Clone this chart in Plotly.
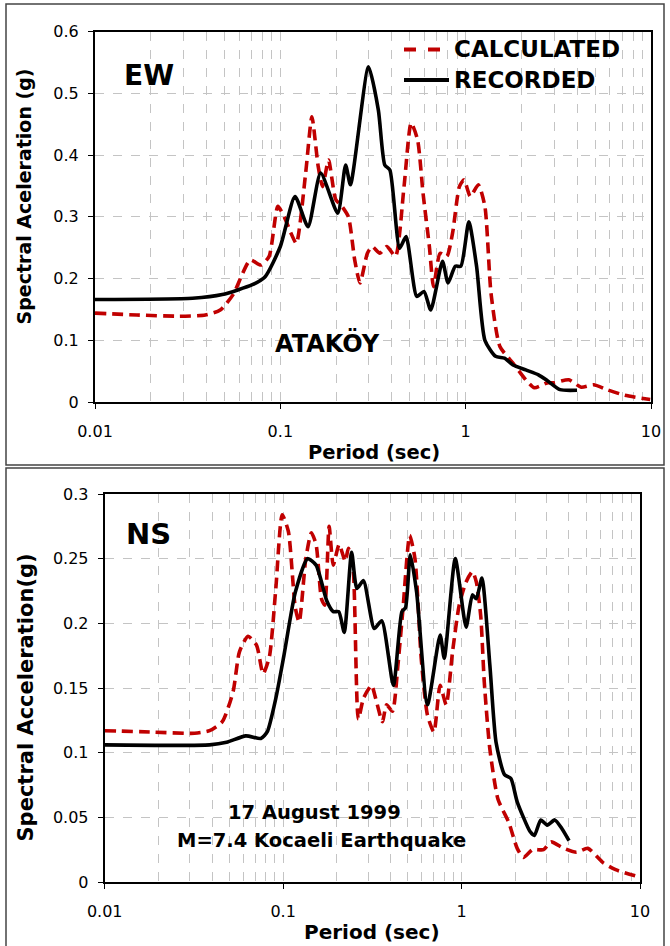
import plotly.graph_objects as go

# ---------------- data ----------------
ew_rec_T = [0.01, 0.0336, 0.0486, 0.0706, 0.0828, 0.1, 0.12, 0.141, 0.165, 0.204, 0.225, 0.239,
            0.299, 0.338, 0.366, 0.39, 0.44, 0.477, 0.545, 0.596, 0.648, 0.75, 0.803, 0.879, 0.942,
            1.04, 1.145, 1.27, 1.45, 1.62, 1.8, 2.11, 2.47, 2.75, 3.23, 3.99]
ew_rec_SA = [0.166, 0.168, 0.174, 0.19, 0.203, 0.252, 0.333, 0.284, 0.371, 0.306, 0.384, 0.352,
             0.543, 0.473, 0.384, 0.376, 0.249, 0.268, 0.171, 0.179, 0.149, 0.228, 0.193, 0.22, 0.22,
             0.292, 0.22, 0.1, 0.074, 0.071, 0.06, 0.052, 0.044, 0.035, 0.02, 0.019]

ew_cal_T = [0.01, 0.0168, 0.0286, 0.0394, 0.0474, 0.0556, 0.0688, 0.0785, 0.087, 0.097, 0.105, 0.114,
            0.122, 0.137, 0.148, 0.16, 0.169, 0.182, 0.199, 0.215, 0.233, 0.252, 0.269, 0.295, 0.313,
            0.344, 0.376, 0.418, 0.465, 0.508, 0.55, 0.589, 0.637, 0.671, 0.728, 0.791, 0.85, 0.925,
            0.98, 1.06, 1.17, 1.27, 1.37, 1.53, 1.8, 2.11, 2.35, 2.75, 3.0, 3.6, 4.2, 4.9, 5.8, 7.2, 9.9]
ew_cal_SA = [0.144, 0.141, 0.139, 0.141, 0.149, 0.174, 0.23, 0.222, 0.236, 0.317, 0.30, 0.274,
             0.257, 0.371, 0.462, 0.382, 0.349, 0.392, 0.328, 0.317, 0.30, 0.23, 0.193, 0.241, 0.252,
             0.241, 0.252, 0.236, 0.349, 0.452, 0.425, 0.338, 0.252, 0.187, 0.241, 0.236, 0.274, 0.349,
             0.36, 0.333, 0.352, 0.317, 0.176, 0.09, 0.063, 0.036, 0.023, 0.031, 0.031, 0.036, 0.024,
             0.028, 0.02, 0.011, 0.004]

ns_rec_T = [0.01, 0.0387, 0.0482, 0.0618, 0.075, 0.0814, 0.091, 0.101, 0.117, 0.137, 0.153, 0.176,
            0.191, 0.205, 0.22, 0.242, 0.259, 0.282, 0.324, 0.357, 0.415, 0.463, 0.485, 0.516, 0.56,
            0.644, 0.758, 0.8, 0.922, 1.06, 1.15, 1.21, 1.3, 1.44, 1.56, 1.74, 1.89, 2.05, 2.42, 2.56,
            2.78, 3.02, 3.33, 3.66, 4.0]
ns_rec_SA = [0.106, 0.106, 0.108, 0.113, 0.111, 0.116, 0.142, 0.175, 0.224, 0.25, 0.245, 0.217,
             0.209, 0.209, 0.193, 0.255, 0.227, 0.233, 0.196, 0.202, 0.152, 0.209, 0.212, 0.253, 0.224,
             0.137, 0.191, 0.173, 0.25, 0.197, 0.222, 0.219, 0.235, 0.168, 0.108, 0.083, 0.08, 0.062,
             0.039, 0.036, 0.048, 0.044, 0.048, 0.041, 0.032]

ns_cal_T = [0.01, 0.0179, 0.0319, 0.0387, 0.0456, 0.0524, 0.0569, 0.0636, 0.071, 0.0772, 0.0837, 0.091,
            0.0988, 0.107, 0.117, 0.123, 0.134, 0.144, 0.153, 0.164, 0.171, 0.181, 0.191, 0.206, 0.223,
            0.232, 0.246, 0.264, 0.282, 0.313, 0.33, 0.36, 0.38, 0.41, 0.44, 0.47, 0.512, 0.548, 0.594,
            0.644, 0.7, 0.758, 0.82, 0.89, 0.97, 1.06, 1.15, 1.21, 1.28, 1.34, 1.44, 1.6, 1.84, 2.05,
            2.22, 2.5, 2.88, 3.17, 3.75, 4.4, 5.1, 6.2, 7.3, 9.9]
ns_cal_SA = [0.117, 0.116, 0.115, 0.117, 0.124, 0.147, 0.178, 0.19, 0.183, 0.161, 0.174, 0.227,
             0.284, 0.271, 0.212, 0.201, 0.25, 0.27, 0.261, 0.219, 0.214, 0.275, 0.245, 0.261, 0.248,
             0.258, 0.245, 0.126, 0.142, 0.152, 0.142, 0.124, 0.137, 0.132, 0.168, 0.212, 0.268, 0.25,
             0.173, 0.129, 0.116, 0.152, 0.137, 0.178, 0.214, 0.232, 0.24, 0.232, 0.206, 0.155, 0.103,
             0.064, 0.046, 0.026, 0.019, 0.025, 0.025, 0.031, 0.026, 0.023, 0.026, 0.015, 0.0095, 0.004]

x_tickvals = [0.01, 0.1, 1, 10]
x_ticktext = ["0.01", "0.1", "1", "10"]
ew_yticks = [0, 0.1, 0.2, 0.3, 0.4, 0.5, 0.6]
ns_yticks = [0, 0.05, 0.1, 0.15, 0.2, 0.25, 0.3]
series_names = ["CALCULATED", "RECORDED"]

# ---------------- figure ----------------
W, H = 670, 946
FONT = "DejaVu Sans, Verdana, sans-serif"
RED = "#c00000"
DASH = "11px,6px"

def px_x(p):
    return p / W

def px_y(p):
    return 1 - p / H

fig = go.Figure()

fig.add_trace(go.Scatter(x=ew_cal_T, y=ew_cal_SA, mode="lines", name=series_names[0], showlegend=False,
                         line=dict(color=RED, width=3.6, dash=DASH, shape="spline", smoothing=0.6),
                         xaxis="x", yaxis="y"))
fig.add_trace(go.Scatter(x=ew_rec_T, y=ew_rec_SA, mode="lines", name=series_names[1], showlegend=False,
                         line=dict(color="black", width=3.6, shape="spline", smoothing=0.6),
                         xaxis="x", yaxis="y"))
fig.add_trace(go.Scatter(x=ns_cal_T, y=ns_cal_SA, mode="lines", name=series_names[0], showlegend=False,
                         line=dict(color=RED, width=3.6, dash=DASH, shape="spline", smoothing=0.6),
                         xaxis="x2", yaxis="y2"))
fig.add_trace(go.Scatter(x=ns_rec_T, y=ns_rec_SA, mode="lines", name=series_names[1], showlegend=False,
                         line=dict(color="black", width=3.6, shape="spline", smoothing=0.6),
                         xaxis="x2", yaxis="y2"))

grid = "#c4c4c4"
def xaxis_cfg(domain, anchor):
    return dict(type="log", domain=domain, anchor=anchor, range=[-2, 1],
                tickvals=x_tickvals, ticktext=x_ticktext, automargin=False,
                showgrid=True, gridcolor=grid, griddash="dash", gridwidth=1,
                minor=dict(dtick="D1", showgrid=True, gridcolor=grid, griddash="dash", gridwidth=1, ticks=""),
                showline=True, linecolor="black", linewidth=2, mirror=True,
                ticks="outside", ticklen=5, tickcolor="black", tickwidth=1.3,
                ticklabelstandoff=9,
                tickfont=dict(family=FONT, size=16, color="black"),
                zeroline=False)

def yaxis_cfg(domain, anchor, rng, ticks):
    return dict(domain=domain, anchor=anchor, range=rng, tickvals=ticks, automargin=False,
                ticktext=[("%g" % t) for t in ticks],
                showgrid=True, gridcolor=grid, griddash="dash", gridwidth=1,
                showline=True, linecolor="black", linewidth=2, mirror=True,
                ticks="outside", ticklen=5, tickcolor="black", tickwidth=1.3,
                ticklabelstandoff=6,
                tickfont=dict(family=FONT, size=16, color="black"),
                zeroline=False)

fig.update_layout(
    width=W, height=H,
    margin=dict(l=0, r=0, t=0, b=0, autoexpand=False),
    paper_bgcolor="white", plot_bgcolor="white",
    xaxis=xaxis_cfg([px_x(95), px_x(651)], "y"),
    yaxis=yaxis_cfg([px_y(402), px_y(31.7)], "x", [0, 0.6], ew_yticks),
    xaxis2=xaxis_cfg([px_x(104.7), px_x(640)], "y2"),
    yaxis2=yaxis_cfg([px_y(882), px_y(494)], "x2", [0, 0.3], ns_yticks),
    showlegend=False,
)

# panel frames
fig.add_shape(type="rect", xref="paper", yref="paper",
              x0=px_x(6), x1=px_x(664), y0=px_y(465), y1=px_y(4),
              line=dict(color="#444444", width=1.5), layer="below")
fig.add_shape(type="rect", xref="paper", yref="paper",
              x0=px_x(6), x1=px_x(664), y0=px_y(960), y1=px_y(468),
              line=dict(color="#444444", width=1.5), layer="below")

# legend (top panel)
legend_rows = [(series_names[0], RED, "dash", 49.5), (series_names[1], "black", "solid", 80)]
for name, col, dash, yy in legend_rows:
    fig.add_shape(type="line", xref="paper", yref="paper",
                  x0=px_x(404), x1=px_x(449), y0=px_y(yy), y1=px_y(yy),
                  line=dict(color=col, width=4, dash=dash))
    fig.add_annotation(text=name, xref="paper", yref="paper", x=px_x(452), y=px_y(yy),
                       xanchor="left", yanchor="middle", showarrow=False,
                       font=dict(family=FONT, size=23, color="black", weight=700))

def note(text, x, y, size, angle=0):
    fig.add_annotation(text=text, xref="paper", yref="paper", x=px_x(x), y=px_y(y),
                       xanchor="center", yanchor="middle", showarrow=False, textangle=angle,
                       font=dict(family=FONT, size=size, color="black", weight=700))

note("EW", 149, 75.5, 28)
note("ATAKÖY", 327, 343, 24)
note("NS", 148, 534, 29)
note("17 August 1999", 314.5, 812.5, 19.5)
note("M=7.4 Kocaeli Earthquake", 321, 840.5, 19.5)

# axis titles
note("Spectral Aceleration (g)", 24, 196.5, 19, -90)
note("Period (sec)", 374, 452, 19.5)
note("Spectral Acceleration(g)", 25, 697.5, 21, -90)
note("Period (sec)", 372, 932, 20)

fig.write_html("out.html")
